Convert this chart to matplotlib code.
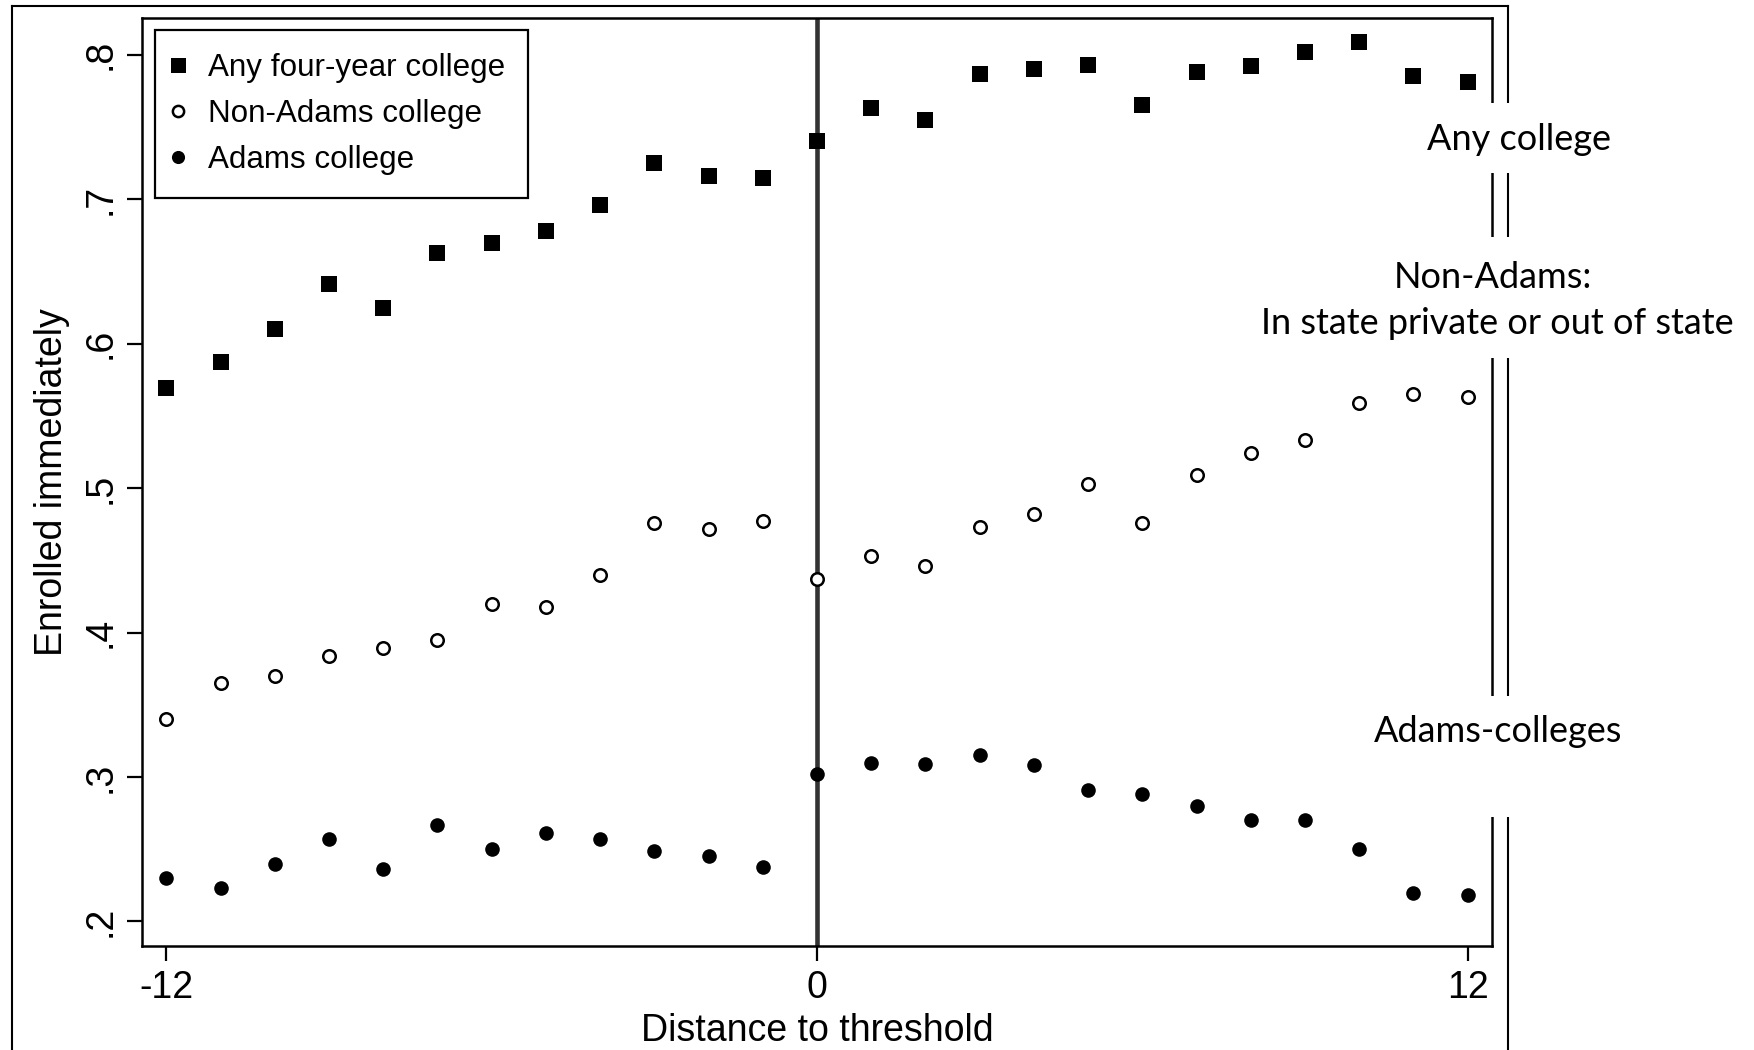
import matplotlib.pyplot as plt
from matplotlib.lines import Line2D
from matplotlib.patches import Rectangle

plt.rcParams['font.family'] = ['Liberation Sans', 'DejaVu Sans']

# distance to the admission threshold
dist = list(range(-12, 13))

# share enrolled immediately, by type of college
any_four_year = [0.569, 0.587, 0.610, 0.641, 0.625, 0.663, 0.670, 0.678, 0.696,
                 0.725, 0.716, 0.715, 0.740, 0.763, 0.755, 0.787, 0.790, 0.793,
                 0.765, 0.788, 0.792, 0.802, 0.809, 0.785, 0.781]
non_adams = [0.340, 0.365, 0.370, 0.384, 0.389, 0.395, 0.420, 0.418, 0.440,
             0.476, 0.472, 0.477, 0.437, 0.453, 0.446, 0.473, 0.482, 0.503,
             0.476, 0.509, 0.524, 0.533, 0.559, 0.565, 0.563]
adams = [0.230, 0.223, 0.240, 0.257, 0.236, 0.267, 0.250, 0.261, 0.257,
         0.249, 0.245, 0.238, 0.302, 0.310, 0.309, 0.315, 0.308, 0.291,
         0.288, 0.280, 0.270, 0.270, 0.250, 0.220, 0.218]

y_ticks = [0.2, 0.3, 0.4, 0.5, 0.6, 0.7, 0.8]
y_tick_labels = ['.2', '.3', '.4', '.5', '.6', '.7', '.8']
x_ticks = [-12, 0, 12]

W, H = 1754, 1050
fig = plt.figure(figsize=(W / 100, H / 100), dpi=100)
ax = fig.add_axes([142 / W, 1 - 946 / H, (1492 - 142) / W, (946 - 18) / H])

ax.axvline(0, color='#333333', lw=3.3, zorder=1)
ax.plot(dist, any_four_year, 's', color='black', ms=12, mew=0,
        label='Any four-year college', zorder=3)
ax.plot(dist, non_adams, 'o', mfc='white', mec='black', ms=9, mew=1.8,
        label='Non-Adams college', zorder=3)
ax.plot(dist, adams, 'o', color='black', ms=10.5, mew=0,
        label='Adams college', zorder=3)

ax.set_xlim(-12.45, 12.45)
ax.set_ylim(0.183, 0.8255)
ax.set_xticks(x_ticks)
ax.set_xticklabels(['-12', '0', '12'])
ax.set_yticks(y_ticks)
ax.set_yticklabels(y_tick_labels, rotation=90, va='center')
ax.tick_params(length=11, width=1.6, labelsize=27, pad=6, direction='out')
for s in ax.spines.values():
    s.set_linewidth(1.8)

ax.set_xlabel('Distance to threshold', fontsize=27, labelpad=5)
ax.set_ylabel('Enrolled immediately', fontsize=27, labelpad=9)

leg = ax.legend(loc='upper left', bbox_to_anchor=(0.0096, 0.987),
                borderaxespad=0, fontsize=22.6, fancybox=False, edgecolor='black',
                framealpha=1, handletextpad=0.97, labelspacing=0.52,
                borderpad=0.72, handlelength=0.01, markerscale=0.9)
leg.get_frame().set_linewidth(1.6)

# outer frame around the whole graph
fx = lambda px: px / W
fy = lambda py: 1 - py / H
frame_kw = dict(color='black', lw=1.5, transform=fig.transFigure)
fig.add_artist(Line2D([fx(12), fx(12)], [fy(6), 0], **frame_kw))
fig.add_artist(Line2D([fx(12), fx(1508)], [fy(6), fy(6)], **frame_kw))
fig.add_artist(Line2D([fx(1508), fx(1508)], [fy(6), 0], **frame_kw))

# white gaps in the right-hand rules with the group names
for top, bottom in [(103, 173), (237, 358), (696, 817)]:
    fig.add_artist(Rectangle((fx(1480), fy(bottom)), fx(40), (bottom - top) / H,
                             transform=fig.transFigure, facecolor='white',
                             edgecolor='none', zorder=5))

side_kw = dict(family=['Lato', 'DejaVu Sans'], fontsize=26, ha='center',
               va='center', zorder=6)
fig.text(fx(1519), fy(139), 'Any college', **side_kw)
fig.text(fx(1493), fy(277), 'Non-Adams:', **side_kw)
fig.text(fx(1497), fy(323), 'In state private or out of state', **side_kw)
fig.text(fx(1498), fy(732), 'Adams-colleges', **side_kw)

fig.savefig('out.png', dpi=100)
